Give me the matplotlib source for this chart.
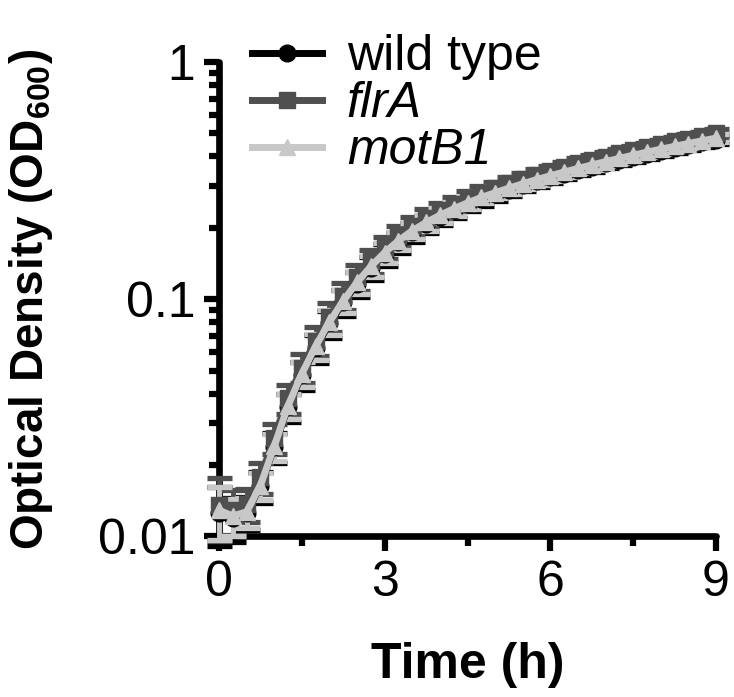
import matplotlib
matplotlib.use("Agg")
import matplotlib.pyplot as plt
import numpy as np
from matplotlib.ticker import LogLocator, NullFormatter, FixedLocator

plt.rcParams['font.family'] = ['Liberation Sans', 'DejaVu Sans']
plt.rcParams['mathtext.fontset'] = 'custom'
plt.rcParams['mathtext.rm'] = 'Liberation Sans'
plt.rcParams['mathtext.it'] = 'Liberation Sans:italic'
plt.rcParams['mathtext.bf'] = 'Liberation Sans:bold'

# ---- data ----
time_h = [0.0, 0.25, 0.5, 0.75, 1.0, 1.25, 1.5, 1.75, 2.0, 2.25, 2.5, 2.75, 3.0,
          3.25, 3.5, 3.75, 4.0, 4.25, 4.5, 4.75, 5.0, 5.25, 5.5, 5.75, 6.0,
          6.25, 6.5, 6.75, 7.0, 7.25, 7.5, 7.75, 8.0, 8.25, 8.5, 8.75, 9.0]

wild_type = [0.0126, 0.0120, 0.0126, 0.0163, 0.0238, 0.0352, 0.0478, 0.0625, 0.0792,
             0.0970, 0.1160, 0.1355, 0.1550, 0.1740, 0.1915, 0.2075, 0.2225, 0.2370,
             0.2510, 0.2645, 0.2770, 0.2895, 0.3020, 0.3145, 0.3265, 0.3385, 0.3505,
             0.3625, 0.3745, 0.3865, 0.3985, 0.4105, 0.4225, 0.4345, 0.4465, 0.4585,
             0.4705]
wild_type_sd = [0.0035, 0.0025, 0.0020, 0.0024, 0.0034, 0.0048, 0.0065, 0.0084, 0.0104,
                0.0124, 0.0140, 0.0154, 0.0164, 0.0170, 0.0172, 0.0172, 0.0170, 0.0168,
                0.0166, 0.0166, 0.0167, 0.0168, 0.0170, 0.0172, 0.0175, 0.0178, 0.0180,
                0.0183, 0.0186, 0.0189, 0.0192, 0.0195, 0.0198, 0.0201, 0.0204, 0.0207,
                0.0210]

flrA = [0.0136, 0.0129, 0.0137, 0.0178, 0.0260, 0.0382, 0.0515, 0.0668, 0.0845,
        0.1035, 0.1236, 0.1443, 0.1651, 0.1853, 0.2039, 0.2210, 0.2370, 0.2524,
        0.2673, 0.2817, 0.2950, 0.3083, 0.3216, 0.3349, 0.3477, 0.3605, 0.3733,
        0.3861, 0.3988, 0.4116, 0.4244, 0.4372, 0.4500, 0.4627, 0.4755, 0.4883,
        0.5011]
flrA_sd = [0.0040, 0.0028, 0.0022, 0.0027, 0.0038, 0.0054, 0.0073, 0.0094, 0.0116,
           0.0138, 0.0156, 0.0170, 0.0180, 0.0186, 0.0188, 0.0186, 0.0182, 0.0178,
           0.0176, 0.0175, 0.0175, 0.0176, 0.0178, 0.0180, 0.0182, 0.0184, 0.0186,
           0.0188, 0.0190, 0.0193, 0.0196, 0.0198, 0.0200, 0.0203, 0.0206, 0.0208,
           0.0210]

motB1 = [0.0129, 0.0122, 0.0127, 0.0164, 0.0240, 0.0356, 0.0485, 0.0634, 0.0803,
         0.0985, 0.1178, 0.1375, 0.1573, 0.1766, 0.1944, 0.2106, 0.2258, 0.2405,
         0.2548, 0.2685, 0.2812, 0.2938, 0.3065, 0.3192, 0.3314, 0.3436, 0.3558,
         0.3679, 0.3801, 0.3923, 0.4045, 0.4167, 0.4288, 0.4410, 0.4532, 0.4654,
         0.4776]
motB1_sd = [0.0032, 0.0022, 0.0018, 0.0022, 0.0031, 0.0044, 0.0060, 0.0078, 0.0095,
            0.0113, 0.0128, 0.0140, 0.0150, 0.0156, 0.0158, 0.0158, 0.0156, 0.0154,
            0.0152, 0.0152, 0.0152, 0.0153, 0.0155, 0.0157, 0.0159, 0.0161, 0.0163,
            0.0165, 0.0167, 0.0170, 0.0172, 0.0175, 0.0177, 0.0180, 0.0182, 0.0185,
            0.0187]

labels = ['wild type', 'flrA', 'motB1']
x_ticks = [0, 3, 6, 9]
x_minor = [1.5, 4.5, 7.5]
y_ticks = [0.01, 0.1, 1]
y_ticklabels = ['0.01', '0.1', '1']

# ---- figure ----
fig = plt.figure(figsize=(7.34, 6.97), dpi=100)
ax = fig.add_axes([0.2984, 0.2303, 0.6771, 0.6808])

series = [
    (wild_type, wild_type_sd, '#000000', 'o', 12),
    (flrA, flrA_sd, '#4f4f4f', 's', 11),
    (motB1, motB1_sd, '#c8c8c8', '^', 12),
]
handles = []
for (vals, sd, col, mk, ms), lab in zip(series, labels):
    cont = ax.errorbar(time_h, vals, yerr=sd, color=col, marker=mk, ms=ms,
                       lw=5, elinewidth=3.5, capsize=9, capthick=3.8,
                       label=lab, clip_on=False, zorder=3)
    for art in cont.get_children():
        art.set_clip_on(False)
    handles.append(cont[0])

ax.set_yscale('log')
ax.set_ylim(0.01, 1)
ax.set_xlim(0, 9)
ax.set_xticks(x_ticks)
ax.set_xticklabels([str(v) for v in x_ticks])
ax.xaxis.set_minor_locator(FixedLocator(x_minor))
ax.set_yticks(y_ticks)
ax.set_yticklabels(y_ticklabels)
ax.yaxis.set_minor_locator(LogLocator(base=10, subs=np.arange(2, 10)))
ax.yaxis.set_minor_formatter(NullFormatter())

for s in ['top', 'right']:
    ax.spines[s].set_visible(False)
for s in ['left', 'bottom']:
    ax.spines[s].set_linewidth(4.8)
    ax.spines[s].set_capstyle('round')

ax.tick_params(which='major', length=11, width=4.5, labelsize=36, pad=6)
ax.tick_params(which='minor', length=7, width=4.5)

ax.set_xlabel('Time (h)', fontsize=36, fontweight='bold')
ax.set_ylabel(r'Optical Density (OD$_{\mathbf{600}}$)', fontsize=33, fontweight='bold')
ax.xaxis.set_label_coords(0.5, -0.222)
ax.yaxis.set_label_coords(-0.33, 0.5)

leg = fig.legend(handles=handles, labels=labels, loc='upper left',
                 bbox_to_anchor=(0.343, 0.951), frameon=False, fontsize=36,
                 handlelength=1.4, handletextpad=0.5, labelspacing=0.02,
                 borderpad=0, borderaxespad=0)
for i in (1, 2):
    leg.get_texts()[i].set_style('italic')

fig.savefig('out.png', dpi=100)
